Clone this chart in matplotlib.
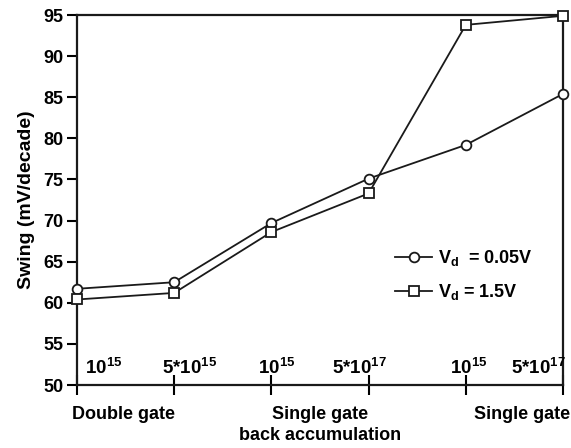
import matplotlib
matplotlib.use("Agg")
import matplotlib.pyplot as plt

plt.rcParams['font.family'] = ['Liberation Sans', 'DejaVu Sans']
plt.rcParams['font.weight'] = 'bold'
plt.rcParams['mathtext.fontset'] = 'custom'
plt.rcParams['mathtext.rm'] = 'Liberation Sans:bold'
plt.rcParams['mathtext.bf'] = 'Liberation Sans:bold'
plt.rcParams['mathtext.it'] = 'Liberation Sans:bold'

x_pos = [0, 1, 2, 3, 4, 5]
swing_005 = [61.7, 62.5, 69.7, 75.1, 79.2, 85.4]
swing_15 = [60.4, 61.2, 68.6, 73.3, 93.8, 94.9]
doping_labels = [r'$\mathregular{10^{15}}$', r'$\mathregular{5{*}10^{15}}$', r'$\mathregular{10^{15}}$',
                 r'$\mathregular{5{*}10^{17}}$', r'$\mathregular{10^{15}}$', r'$\mathregular{5{*}10^{17}}$']
doping_label_x = [0.275, 1.16, 2.05, 2.91, 4.03, 4.75]
group_labels = ['Double gate', 'Single gate\nback accumulation', 'Single gate']
group_label_x = [0.48, 2.5, 4.58]
yticks = [50, 55, 60, 65, 70, 75, 80, 85, 90, 95]

fig = plt.figure(figsize=(5.71, 4.48), dpi=100)
ax = fig.add_axes([77/571, 1 - 385/448, (563-77)/571, (385-15)/448])

ax.plot(x_pos, swing_005, '-o', color='#1a1a1a', lw=1.3, ms=7, mfc='white', mec='#1a1a1a', mew=1.3,
        label=r'V$_\mathregular{d}$  = 0.05V', clip_on=False, zorder=3)
ax.plot(x_pos, swing_15, '-s', color='#1a1a1a', lw=1.3, ms=7, mfc='white', mec='#1a1a1a', mew=1.3,
        label=r'V$_\mathregular{d}$ = 1.5V', clip_on=False, zorder=3)

ax.set_xlim(0, 5)
ax.set_ylim(50, 95)
ax.set_yticks(yticks)
ax.set_xticks(x_pos)
ax.set_xticklabels([])
ax.tick_params(axis='y', direction='out', length=7, width=1.5, labelsize=13, pad=3)
ax.tick_params(axis='x', direction='inout', length=14, width=1.5)
for lab in ax.get_yticklabels():
    lab.set_fontweight('bold')
for s in ax.spines.values():
    s.set_linewidth(1.6)
    s.set_color('#1a1a1a')

ax.set_ylabel('Swing (mV/decade)', fontsize=14, fontweight='bold', labelpad=6)

for xl, t in zip(doping_label_x, doping_labels):
    ax.text(xl, 50.9, t, ha='center', va='bottom', fontsize=13.5, fontweight='bold')

for xg, g in zip(group_label_x, group_labels):
    ax.text(xg, 47.4, g, ha='center', va='top', fontsize=13, fontweight='bold',
            linespacing=1.25, clip_on=False)

leg = ax.legend(loc='center left', bbox_to_anchor=(0.655, 0.297), frameon=False, fontsize=13,
                handlelength=2.05, handletextpad=0.3, labelspacing=0.75, borderaxespad=0,
                borderpad=0)
for t in leg.get_texts():
    t.set_fontweight('bold')

fig.savefig('out.png', dpi=100)
